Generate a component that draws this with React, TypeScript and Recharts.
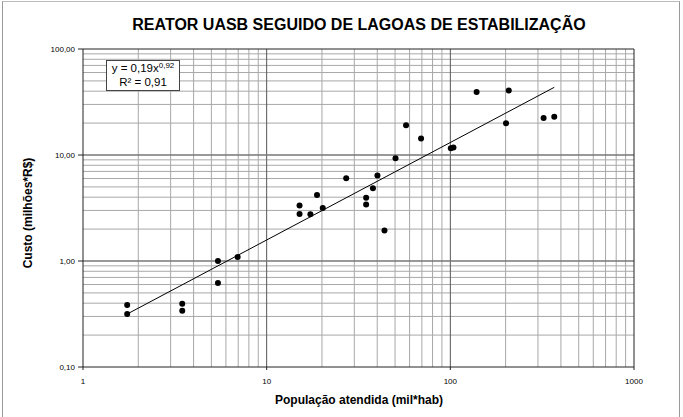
import React from "react";
import { ScatterChart, Scatter, XAxis, YAxis, ReferenceLine } from "recharts";

// Population served (thousand inhabitants) and cost (million R$)
const population = [1.74, 1.74, 3.47, 3.47, 5.43, 5.43, 6.95, 15.1, 15.1, 17.3, 18.8, 20.2, 27.1, 34.8, 34.8, 37.9, 40.1, 43.8, 50.3, 57.4, 69.3, 100.6, 104, 139, 208, 201, 322, 368];
const cost = [0.385, 0.316, 0.396, 0.34, 1.0, 0.62, 1.09, 3.33, 2.77, 2.76, 4.19, 3.16, 6.03, 3.96, 3.41, 4.85, 6.39, 1.94, 9.3, 19.1, 14.3, 11.6, 11.8, 39.3, 40.5, 19.9, 22.3, 23.0];

// Power trendline endpoints (y = 0,19x^0,92)
const trendX = [1.74, 368];
const trendY = [0.316, 43.5];

const xTicks = [1, 10, 100, 1000];
const xTickLabels = ["1", "10", "100", "1000"];
const yTicks = [0.1, 1, 10, 100];
const yTickLabels = ["0,10", "1,00", "10,00", "100,00"];

const xMinor = [2, 3, 4, 5, 6, 7, 8, 9, 20, 30, 40, 50, 60, 70, 80, 90, 200, 300, 400, 500, 600, 700, 800, 900];
const yMinor = [0.2, 0.3, 0.4, 0.5, 0.6, 0.7, 0.8, 0.9, 2, 3, 4, 5, 6, 7, 8, 9, 20, 30, 40, 50, 60, 70, 80, 90];
const xMajor = [10, 100];
const yMajor = [1, 10];

const title = "REATOR UASB SEGUIDO DE LAGOAS DE ESTABILIZAÇÃO";
const xLabel = "População atendida (mil*hab)";
const yLabel = "Custo (milhões*R$)";

const points = population.map((x, i) => ({ x, y: cost[i] }));
const trend = trendX.map((x, i) => ({ x, y: trendY[i] }));

const FONT = "'Liberation Sans', Arial, sans-serif";

const Dot = (props: any) => <circle cx={props.cx} cy={props.cy} r={3} fill="#000" />;
const NoDot = () => <g />;

const XTick = (props: any) => {
  const { x, y, payload } = props;
  const label = xTickLabels[xTicks.indexOf(payload.value)] ?? String(payload.value);
  return (
    <text x={x} y={y + 4} textAnchor="middle" dominantBaseline="hanging" fontSize={8} fill="#000" fontFamily={FONT}>
      {label}
    </text>
  );
};

const YTick = (props: any) => {
  const { x, y, payload } = props;
  const label = yTickLabels[yTicks.indexOf(payload.value)] ?? String(payload.value);
  return (
    <text x={x} y={y} textAnchor="end" dominantBaseline="central" fontSize={8} fill="#000" fontFamily={FONT}>
      {label}
    </text>
  );
};

export default function App() {
  return (
    <div style={{ position: "absolute", left: 0, top: 0, width: 683, height: 417, background: "#fff", fontFamily: FONT, overflow: "hidden" }}>
      <div style={{ position: "absolute", left: 2, top: 1, width: 676, height: 440, borderLeft: "1px solid #999", borderRight: "1px solid #999", borderTop: "1px solid #bbb" }} />
      <ScatterChart width={683} height={417} margin={{ top: 49, right: 49, bottom: 20, left: 0 }} style={{ position: "absolute", left: 0, top: 0 }}>
        <XAxis
          dataKey="x"
          type="number"
          scale="log"
          domain={[1, 1000]}
          ticks={xTicks}
          height={30}
          tickSize={3}
          tickMargin={4}
          stroke="#222"
          tick={<XTick />}
          allowDataOverflow
        />
        <YAxis
          dataKey="y"
          type="number"
          scale="log"
          domain={[0.1, 100]}
          ticks={yTicks}
          width={83}
          tickSize={5}
          tickMargin={3}
          stroke="#222"
          tick={<YTick />}
          allowDataOverflow
        />
        {xMinor.map((v) => (
          <ReferenceLine key={"xm" + v} x={v} stroke="#a8a8a8" strokeWidth={1} />
        ))}
        {yMinor.map((v) => (
          <ReferenceLine key={"ym" + v} y={v} stroke="#a8a8a8" strokeWidth={1} />
        ))}
        {xMajor.map((v) => (
          <ReferenceLine key={"xM" + v} x={v} stroke="#555" strokeWidth={1} />
        ))}
        {yMajor.map((v) => (
          <ReferenceLine key={"yM" + v} y={v} stroke="#777" strokeWidth={1.5} />
        ))}
        <ReferenceLine x={1000} stroke="#222" strokeWidth={1} />
        <ReferenceLine y={100} stroke="#222" strokeWidth={1} />
        <Scatter data={trend} line={{ stroke: "#000", strokeWidth: 1 }} shape={NoDot} isAnimationActive={false} />
        <Scatter data={points} shape={Dot} isAnimationActive={false} />
      </ScatterChart>
      <div style={{ position: "absolute", left: 0, width: 718, top: 16, textAlign: "center", fontSize: 16, fontWeight: "bold", color: "#000", whiteSpace: "nowrap" }}>{title}</div>
      <div style={{ position: "absolute", left: 0, width: 718, top: 393, textAlign: "center", fontSize: 12, fontWeight: "bold", color: "#000", whiteSpace: "nowrap" }}>{xLabel}</div>
      <div style={{ position: "absolute", left: 28, top: 213, transform: "translate(-50%, -50%) rotate(-90deg)", fontSize: 12, fontWeight: "bold", color: "#000", whiteSpace: "nowrap" }}>{yLabel}</div>
      <div style={{ position: "absolute", left: 106, top: 60, width: 72, height: 29, border: "1px solid #444", background: "#fff", fontSize: 11.5, lineHeight: "14px", textAlign: "center", color: "#000" }}>
        <div>y = 0,19x<sup style={{ fontSize: 8, verticalAlign: "top", lineHeight: "8px", position: "relative", top: 1 }}>0,92</sup></div>
        <div>R² = 0,91</div>
      </div>
    </div>
  );
}
